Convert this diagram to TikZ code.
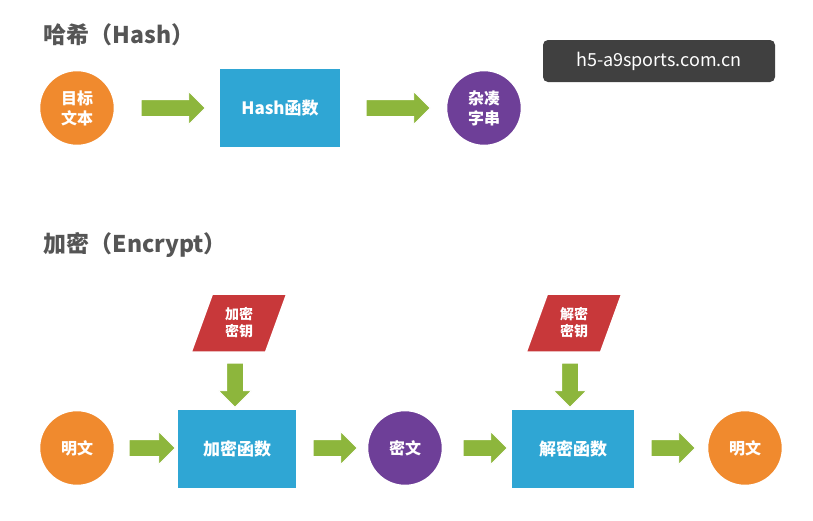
\documentclass[tikz,border=0pt]{standalone}
\usepackage{fontspec}
\setmainfont{Noto Sans CJK SC}
\usetikzlibrary{shapes.arrows,shapes.geometric}
\definecolor{org}{HTML}{F08A2E}
\definecolor{blu}{HTML}{2FA6D4}
\definecolor{pur}{HTML}{6E3F98}
\definecolor{grn}{HTML}{8DB63C}
\definecolor{redk}{HTML}{C8383A}
\definecolor{ttl}{HTML}{555555}
\begin{document}
\begin{tikzpicture}[x=1pt,y=-1pt,
  circ/.style={circle,minimum size=76pt,inner sep=0,draw=white,line width=2.5pt,text=white,font=\bfseries\fontsize{16}{20}\selectfont,align=center},
  box/.style={rectangle,fill=blu,minimum width=#1,minimum height=80pt,text=white,font=\bfseries\fontsize{17}{20}\selectfont,draw=white,line width=1.5pt},
  key/.style={trapezium,trapezium left angle=70,trapezium right angle=110,fill=redk,minimum width=78pt,minimum height=58pt,inner sep=1pt,text=white,font=\bfseries\fontsize{14}{17}\selectfont,align=center,draw=white,line width=1.5pt},
  ar/.style={single arrow,fill=grn,draw=white,line width=0.8pt,minimum width=32pt,single arrow head extend=8pt,minimum height=#1,inner xsep=0,inner ysep=8pt,shape border rotate=0},
  dar/.style={single arrow,fill=grn,draw=white,line width=0.8pt,minimum width=32pt,single arrow head extend=8pt,minimum height=44pt,inner sep=8pt,shape border rotate=270},
  ttlst/.style={anchor=west,text=ttl,font=\bfseries\fontsize{23}{25}\selectfont}]
\useasboundingbox[fill=white] (0,0) rectangle (813,520);
\node[ttlst] (t1) at (40,35) {哈希（Hash）};
\node[ttlst] (t2) at (40,245) {加密（Encrypt）};
\node[circ,fill=org] (a1) at (77,108) {目标\\文本};
\node[ar=64pt] (r1) at (169,108) {};
\node[box=122pt] (h) at (280,108) {Hash函数};
\node[ar=64pt] (r2) at (394,108) {};
\node[circ,fill=pur] (c1) at (484,108) {杂凑\\字串};
\node[rectangle,rounded corners=5pt,fill=black!75,minimum width=232pt,minimum height=42pt,text=white,font=\fontsize{18}{20}\selectfont] (wm) at (659,61) {h5-a9sports.com.cn};
\node[circ,fill=org] (p1) at (77,448) {明文};
\node[ar=46pt] (r3) at (148,448) {};
\node[box=120pt] (e) at (237,449) {加密函数};
\node[ar=44pt] (r4) at (331,448) {};
\node[circ,fill=pur] (m) at (405,448) {密文};
\node[ar=44pt] (r5) at (481,448) {};
\node[box=123pt] (d) at (573,449) {解密函数};
\node[ar=44pt] (r6) at (669,448) {};
\node[circ,fill=org] (p2) at (745,448) {明文};
\node[key] (k1) at (239,323) {加密\\密钥};
\node[dar] (r7) at (235,381) {};
\node[key] (k2) at (574,323) {解密\\密钥};
\node[dar] (r8) at (570,381) {};
\end{tikzpicture}
\end{document}
